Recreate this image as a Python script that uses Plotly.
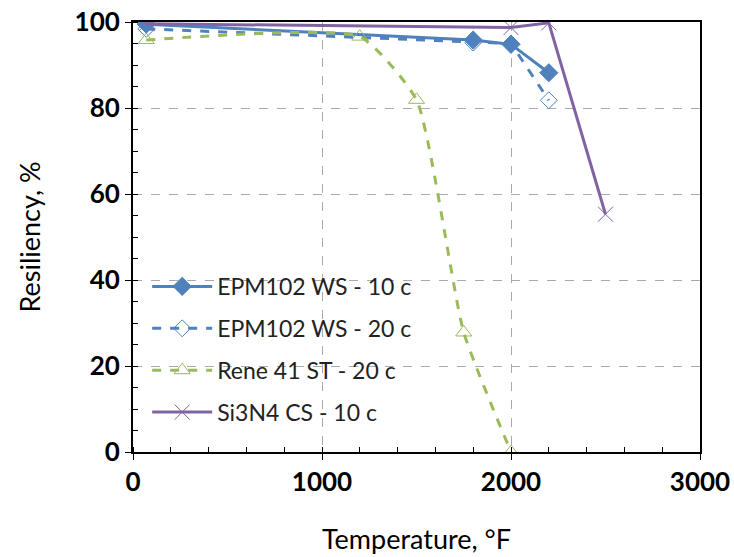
import plotly.graph_objects as go

# Data
epm10_x = [70, 1800, 2000, 2200]
epm10_y = [99.5, 95.8, 94.8, 88.2]

epm20_x = [70, 1800, 2000, 2200]
epm20_y = [98.4, 95.2, 95.0, 81.8]

rene_x = [70, 1200, 1500, 1750, 2000]
rene_y = [95.8, 96.6, 81.9, 27.8, 0.0]

si_x = [70, 2000, 2200, 2500]
si_y = [99.6, 98.7, 99.8, 55.3]

names = ["EPM102 WS - 10 c", "EPM102 WS - 20 c", "Rene 41 ST - 20 c", "Si3N4 CS - 10 c"]

BLUE = "#4F81BD"
GREEN = "#9BBB59"
PURPLE = "#8064A2"

fig = go.Figure()
fig.add_trace(go.Scatter(x=epm10_x, y=epm10_y, name=names[0], mode="lines+markers",
                         legendgroup="a",
                         line=dict(color=BLUE, width=3),
                         marker=dict(symbol="diamond", size=14, color=BLUE,
                                     line=dict(color=BLUE, width=1))))
fig.add_trace(go.Scatter(x=epm20_x, y=epm20_y, name=names[1], mode="lines+markers",
                         legendgroup="b",
                         line=dict(color=BLUE, width=3, dash="dash"),
                         marker=dict(symbol="diamond-open", size=13, color=BLUE,
                                     line=dict(color=BLUE, width=1))))
fig.add_trace(go.Scatter(x=rene_x, y=rene_y, name=names[2], mode="lines+markers",
                         legendgroup="c",
                         line=dict(color=GREEN, width=3, dash="dash", shape="spline", smoothing=0.5),
                         marker=dict(symbol="triangle-up-open", size=14, color=GREEN,
                                     line=dict(color=GREEN, width=1))))
fig.add_trace(go.Scatter(x=si_x, y=si_y, name=names[3], mode="lines+markers",
                         legendgroup="d",
                         line=dict(color=PURPLE, width=3),
                         marker=dict(symbol="x-thin-open", size=15, color=PURPLE,
                                     line=dict(color=PURPLE, width=1))))

tickfont = dict(family="Lato, DejaVu Sans", size=26, color="#000000", weight="bold")
titlefont = dict(family="Lato, DejaVu Sans", size=27, color="#000000")
fig.update_layout(
    width=734, height=557,
    margin=dict(l=133, r=34, t=22, b=105),
    plot_bgcolor="white", paper_bgcolor="white",
    font=dict(family="Lato, DejaVu Sans", color="#000000"),
    showlegend=True,
    legend=dict(x=0.025, y=0.435, xanchor="left", yanchor="top",
                bgcolor="rgba(0,0,0,0)", font=dict(size=23, color="#222222"),
                traceorder="grouped", tracegroupgap=9, itemwidth=60),
    xaxis=dict(range=[0, 3000], dtick=1000, tickfont=tickfont, automargin=False,
               ticklabeloverflow="allow",
               title=dict(text="Temperature, °F", font=titlefont, standoff=34),
               showline=True, linecolor="black", linewidth=2, mirror=True,
               ticks="outside", ticklen=6, tickcolor="black",
               showgrid=True, gridcolor="#AAAAAA", griddash="dash", gridwidth=1,
               zeroline=False,
               minor=dict(dtick=200, ticks="inside", ticklen=5, tickcolor="black", showgrid=False)),
    yaxis=dict(range=[0, 100], dtick=20, tickfont=tickfont, automargin=False,
               ticklabeloverflow="allow",
               title=dict(text="Resiliency, %", font=titlefont, standoff=26),
               showline=True, linecolor="black", linewidth=2, mirror=True,
               ticks="outside", ticklen=6, tickcolor="black",
               showgrid=True, gridcolor="#AAAAAA", griddash="dash", gridwidth=1,
               zeroline=False,
               minor=dict(dtick=5, ticks="inside", ticklen=5, tickcolor="black", showgrid=False)),
)

fig.write_html("out.html", config={"displayModeBar": False},
               post_script="document.body.style.margin='0px';document.body.style.overflow='hidden';")
